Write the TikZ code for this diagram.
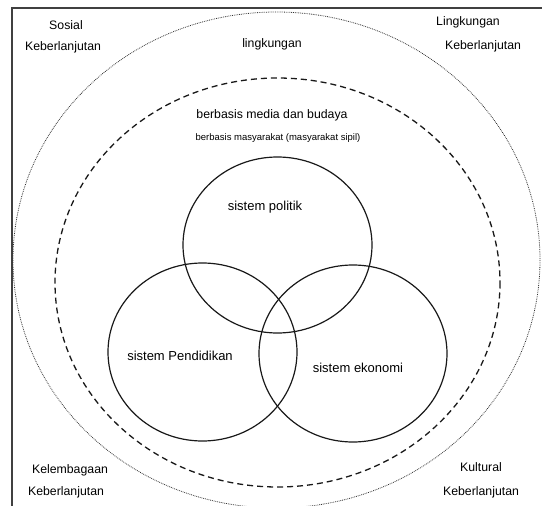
\documentclass[tikz,border=0pt]{standalone}
\usepackage{fontspec}
\setmainfont{Liberation Sans}
\begin{document}
\begin{tikzpicture}[x=1pt, y=-1pt,
  lbl/.style={anchor=center, inner sep=0pt, font=\fontsize{12.3}{14}\selectfont},
  sys/.style={anchor=center, inner sep=0pt, font=\fontsize{13}{15}\selectfont},
  ring/.style={line width=1.2pt, black!90}]
\useasboundingbox (0,0) rectangle (542,506);
\draw[line width=1.2pt, black!75] (542,8) -- (12,8) -- (12,506);

\draw[line width=0.8pt, black!80, dash pattern=on 0.8pt off 1pt] (276.5,260) ellipse (263.5 and 248);
\draw[line width=1.3pt, black!90, dash pattern=on 6pt off 4pt] (277.5,282.5) ellipse (222.5 and 204.5);

\draw[ring] (277.5,245) ellipse (94.5 and 88);
\draw[ring] (202.5,352) ellipse (94.5 and 89);
\draw[ring] (353,353.5) ellipse (94 and 88.5);

\node[lbl] (sos) at (66,25) {Sosial};
\node[lbl] (sosk) at (63,47) {Keberlanjutan};
\node[lbl] (lin) at (468,22) {Lingkungan};
\node[lbl] (link) at (483,46) {Keberlanjutan};
\node[lbl] (kel) at (70,470) {Kelembagaan};
\node[lbl] (kelk) at (66,492) {Keberlanjutan};
\node[lbl] (kul) at (481,467) {Kultural};
\node[lbl] (kulk) at (481,492) {Keberlanjutan};

\node[lbl] (ling) at (272,44) {lingkungan};
\node[lbl] (media) at (272,115) {berbasis media dan budaya};
\node[anchor=center, inner sep=0pt, font=\fontsize{9.5}{11}\selectfont] (masy) at (278,138) {berbasis masyarakat (masyarakat sipil)};

\node[sys] (pol) at (265,207) {sistem politik};
\node[sys] (pen) at (180,356) {sistem Pendidikan};
\node[sys] (eko) at (358,368) {sistem ekonomi};
\end{tikzpicture}
\end{document}
